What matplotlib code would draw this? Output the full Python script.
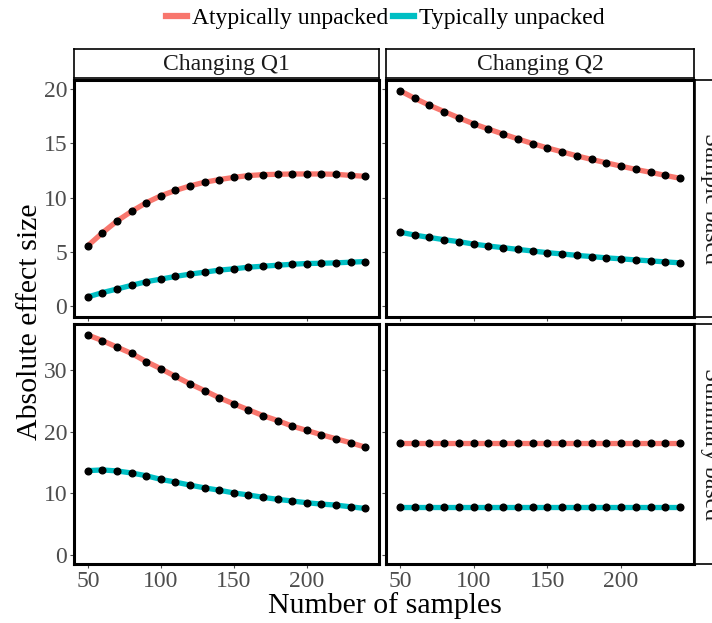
import matplotlib
matplotlib.use('Agg')
import matplotlib.pyplot as plt
from matplotlib.lines import Line2D

plt.rcParams['font.family'] = ['Liberation Serif', 'DejaVu Serif']

# number of samples (x)
samples = list(range(50, 250, 10))

# sample based, changing Q1
q1_sample_atyp = [5.57, 6.76, 7.85, 8.74, 9.53, 10.17, 10.66, 11.08, 11.42, 11.66,
                  11.87, 12.03, 12.12, 12.15, 12.18, 12.18, 12.18, 12.15, 12.05, 11.96]
q1_sample_typ = [0.85, 1.25, 1.58, 1.92, 2.25, 2.49, 2.74, 2.95, 3.13, 3.32,
                 3.44, 3.59, 3.68, 3.77, 3.86, 3.93, 3.95, 3.99, 4.05, 4.11]
# sample based, changing Q2
q2_sample_atyp = [19.85, 19.15, 18.51, 17.93, 17.35, 16.80, 16.32, 15.86, 15.41, 14.98,
                  14.58, 14.22, 13.85, 13.52, 13.21, 12.90, 12.60, 12.33, 12.05, 11.78]
q2_sample_typ = [6.82, 6.55, 6.33, 6.12, 5.94, 5.72, 5.54, 5.39, 5.23, 5.08,
                 4.93, 4.81, 4.68, 4.57, 4.45, 4.36, 4.26, 4.17, 4.08, 3.99]
# summary based, changing Q1
q1_summary_atyp = [35.67, 34.75, 33.70, 32.67, 31.36, 30.20, 28.95, 27.75, 26.65, 25.50,
                   24.50, 23.55, 22.60, 21.80, 20.90, 20.20, 19.50, 18.85, 18.20, 17.50]
q1_summary_typ = [13.68, 13.80, 13.63, 13.30, 12.86, 12.26, 11.83, 11.33, 10.89, 10.51,
                  10.07, 9.74, 9.36, 9.03, 8.76, 8.48, 8.26, 8.10, 7.82, 7.55]
# summary based, changing Q2
q2_summary_atyp = [18.17] * 20
q2_summary_typ = [7.82] * 20

col_labels = ['Changing Q1', 'Changing Q2']
row_labels = ['Sample based', 'Summary based']
series_names = ['Atypically unpacked', 'Typically unpacked']
colors = ['#F8766D', '#00BFC4']

panels = [[(q1_sample_atyp, q1_sample_typ), (q2_sample_atyp, q2_sample_typ)],
          [(q1_summary_atyp, q1_summary_typ), (q2_summary_atyp, q2_summary_typ)]]

W, H = 712, 623
fig = plt.figure(figsize=(W / 100, H / 100), dpi=100)


def box(x0, y0, x1, y1):
    # pixel box (top-left origin) -> figure fraction rect
    return [x0 / W, 1 - y1 / H, (x1 - x0) / W, (y1 - y0) / H]


col_px = [(74, 379), (386, 694)]
row_px = [(80, 317), (324, 564)]
ylims = [(-1.0, 20.84), (-1.45, 37.45)]
yticks = [[0, 5, 10, 15, 20], [0, 10, 20, 30]]
tick_col = '#4D4D4D'

for r in range(2):
    for c in range(2):
        ax = fig.add_axes(box(col_px[c][0], row_px[r][0], col_px[c][1], row_px[r][1]))
        for s in range(2):
            vals = panels[r][c][s]
            ax.plot(samples, vals, color=colors[s], lw=3.8, solid_capstyle='butt', zorder=2)
            ax.plot(samples, vals, 'o', color='black', ms=4.8, zorder=3)
        ax.set_xlim(40.5, 249.5)
        ax.set_ylim(*ylims[r])
        ax.set_xticks([50, 100, 150, 200])
        ax.set_yticks(yticks[r])
        for sp in ax.spines.values():
            sp.set_linewidth(2.2)
            sp.set_color('black')
        ax.tick_params(length=3, width=0.8, color=tick_col, labelcolor=tick_col,
                       labelsize=17, pad=2)
        if c == 1:
            ax.set_yticklabels([])
        if r == 0:
            ax.set_xticklabels([])

        # facet strips
        if r == 0:
            sax = fig.add_axes(box(col_px[c][0], 49, col_px[c][1], 78))
            sax.set_xticks([])
            sax.set_yticks([])
            for sp in sax.spines.values():
                sp.set_linewidth(1.2)
            sax.text(0.5, 0.45, col_labels[c], ha='center', va='center', fontsize=17,
                     color='#1A1A1A', transform=sax.transAxes)
        if c == 1:
            sax = fig.add_axes(box(695, row_px[r][0], 726, row_px[r][1]))
            sax.set_xticks([])
            sax.set_yticks([])
            for sp in sax.spines.values():
                sp.set_linewidth(1.2)
            sax.text(0.5, 0.5, row_labels[r], ha='center', va='center', fontsize=17,
                     rotation=-90, color='#1A1A1A', transform=sax.transAxes)

fig.text(385 / W, 1 - 606 / H, 'Number of samples', ha='center', va='center', fontsize=21.5)
fig.text(30 / W, 1 - 322 / H, 'Absolute effect size', ha='center', va='center',
         fontsize=21.5, rotation=90)

handles = [Line2D([], [], color=colors[i], lw=4.5) for i in range(2)]
fig.legend(handles, series_names, loc='center', bbox_to_anchor=(385 / W, 1 - 18 / H),
           ncol=2, frameon=False, fontsize=17, handlelength=0.9, handletextpad=0.2,
           columnspacing=0.2, borderpad=0)

fig.savefig('out.png', dpi=100)
